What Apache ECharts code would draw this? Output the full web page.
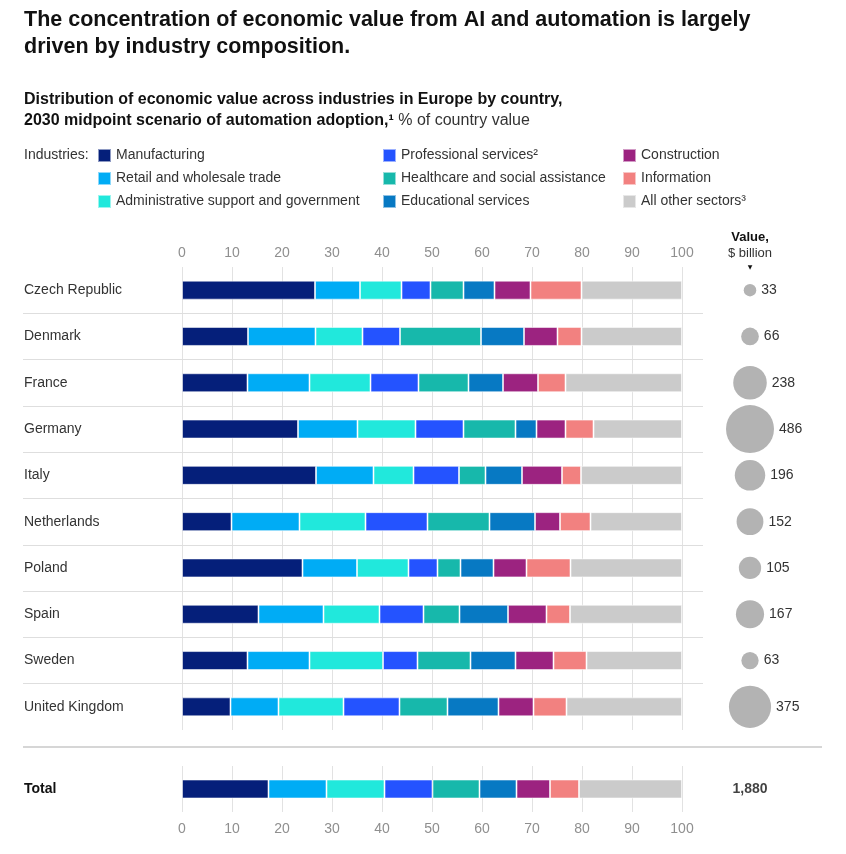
<!DOCTYPE html>
<html>
<head>
<meta charset="utf-8">
<script src="https://cdn.jsdelivr.net/npm/echarts@6/dist/echarts.min.js"></script>
<style>
html,body{margin:0;padding:0;background:#fff;}
#chart{width:846px;height:854px;}
</style>
</head>
<body>
<div id="chart"></div>
<script>
// ---- data ----
var countries = ['Czech Republic','Denmark','France','Germany','Italy','Netherlands','Poland','Spain','Sweden','United Kingdom'];
var industries = ['Manufacturing','Retail and wholesale trade','Administrative support and government','Professional services\u00b2','Healthcare and social assistance','Educational services','Construction','Information','All other sectors\u00b3'];
var industryColors = ['#051f7a','#00acf5','#21e8dc','#2453ff','#17b8ab','#0779c3','#9c2380','#f28180','#cbcbcb'];

var manufacturing = [26.6, 13.2, 13.1, 23.2, 26.8, 9.9, 24.1, 15.3, 13.1, 9.7];
var retail        = [9.0, 13.5, 12.4, 11.9, 11.5, 13.6, 10.9, 13.0, 12.4, 9.6];
var admin         = [8.3, 9.4, 12.2, 11.6, 8.0, 13.2, 10.3, 11.2, 14.7, 13.0];
var professional  = [5.8, 7.5, 9.6, 9.6, 9.1, 12.4, 5.8, 8.8, 6.9, 11.2];
var healthcare    = [6.6, 16.2, 10.0, 10.4, 5.3, 12.4, 4.6, 7.2, 10.6, 9.6];
var educational   = [6.2, 8.6, 6.9, 4.2, 7.3, 9.1, 6.6, 9.7, 9.0, 10.2];
var construction  = [7.2, 6.7, 7.0, 5.8, 8.0, 5.0, 6.6, 7.7, 7.6, 7.0];
var information   = [10.2, 4.8, 5.5, 5.6, 3.8, 6.1, 8.8, 4.7, 6.6, 6.6];
var otherSectors  = [20.1, 20.1, 23.3, 17.7, 20.2, 18.3, 22.3, 22.4, 19.1, 23.1];

var totalShares = [17.3, 11.6, 11.6, 9.6, 9.4, 7.4, 6.7, 5.8, 20.6];
var countryValues = [33, 66, 238, 486, 196, 152, 105, 167, 63, 375];
var totalValue = 1880;
var axisTicks = [0, 10, 20, 30, 40, 50, 60, 70, 80, 90, 100];

var industryData = [manufacturing, retail, admin, professional, healthcare, educational, construction, information, otherSectors];

// ---- layout ----
var FONT = 'Liberation Sans, Arial, sans-serif';
var maxVal = Math.max.apply(null, countryValues);
var maxDiam = 48;

var series = [];
industries.forEach(function (name, k) {
  series.push({
    name: name, type: 'bar', stack: 'c', xAxisIndex: 0, yAxisIndex: 0,
    barWidth: 19, data: industryData[k],
    itemStyle: {color: industryColors[k], borderColor: 'rgba(255,255,255,0.55)', borderWidth: 1},
    silent: true, animation: false
  });
  series.push({
    name: name, type: 'bar', stack: 't', xAxisIndex: 1, yAxisIndex: 1,
    barWidth: 19, data: [totalShares[k]],
    itemStyle: {color: industryColors[k], borderColor: 'rgba(255,255,255,0.55)', borderWidth: 1},
    silent: true, animation: false
  });
});

series.push({
  type: 'scatter', xAxisIndex: 2, yAxisIndex: 2, silent: true, animation: false,
  data: countryValues.map(function (v, i) { return [0.5, i, v]; }),
  symbolSize: function (d) { return maxDiam * Math.sqrt(d[2] / maxVal); },
  itemStyle: {color: '#b3b3b3', opacity: 1},
  label: {show: true, position: 'right', distance: 5, color: '#333', fontSize: 14, fontFamily: FONT,
    formatter: function (p) { return p.value[2]; }}
});

series.push({
  type: 'scatter', xAxisIndex: 3, yAxisIndex: 3, silent: true, animation: false,
  data: [[0.5, 0, totalValue]], symbolSize: 1,
  itemStyle: {color: 'rgba(0,0,0,0)'},
  label: {show: true, position: 'inside', color: '#111', fontSize: 14, fontWeight: 'bold', fontFamily: FONT,
    formatter: function (p) { return p.value[2].toLocaleString('en-US'); }}
});

series.push({
  type: 'scatter', xAxisIndex: 4, yAxisIndex: 4, silent: true, animation: false,
  data: [[0, 0]], symbolSize: 0,
  markLine: {
    silent: true, symbol: ['none', 'none'], animation: false,
    label: {show: false},
    lineStyle: {color: '#dedede', type: 'solid', width: 1},
    data: countries.slice(1).map(function (c, i) { return {yAxis: i + 1}; })
  }
});

var hiddenVal = {type: 'value', show: false, min: 0, max: 1};
var axisLabelStyle = {color: '#8f8f8f', fontSize: 14, fontFamily: FONT};

var option = {
  backgroundColor: '#fff',
  textStyle: {fontFamily: FONT},
  title: [
    {text: 'The concentration of economic value from AI and automation is largely\ndriven by industry composition.',
     left: 24, top: 7, padding: 0,
     textStyle: {fontSize: 21.5, fontWeight: 'bold', color: '#111', lineHeight: 27, fontFamily: FONT}},
    {text: '{b|Distribution of economic value across industries in Europe by country,}\n{b|2030 midpoint scenario of automation adoption,\u00b9}{r| % of country value}',
     left: 24, top: 89, padding: 0,
     textStyle: {fontWeight: 'normal', rich: {
       b: {fontSize: 16, fontWeight: 'bold', color: '#111', lineHeight: 21, fontFamily: FONT},
       r: {fontSize: 16, fontWeight: 'normal', color: '#333', lineHeight: 21, fontFamily: FONT}
     }}}
  ],
  legend: [0, 1, 2].map(function (c) {
    return {
      orient: 'vertical', left: [97, 382, 622][c], top: 148,
      data: industries.slice(c * 3, c * 3 + 3),
      icon: 'rect', itemWidth: 13, itemHeight: 13, itemGap: 8, padding: 0,
      selectedMode: false,
      textStyle: {fontSize: 14, color: '#333', fontFamily: FONT}
    };
  }),
  graphic: [
    {type: 'text', x: 24, y: 155, style: {text: 'Industries:', fontSize: 14, fill: '#333', fontFamily: FONT, verticalAlign: 'middle'}},
    {type: 'text', x: 750, y: 237, style: {text: 'Value,', fontSize: 13, fontWeight: 'bold', fill: '#111', align: 'center', verticalAlign: 'middle', fontFamily: FONT}},
    {type: 'text', x: 750, y: 253, style: {text: '$ billion', fontSize: 13, fill: '#333', align: 'center', verticalAlign: 'middle', fontFamily: FONT}},
    {type: 'text', x: 750, y: 267, style: {text: '\u25BC', fontSize: 6, fill: '#111', align: 'center', verticalAlign: 'middle', fontFamily: 'DejaVu Sans'}},
    {type: 'line', shape: {x1: 23, y1: 747, x2: 822, y2: 747}, style: {stroke: '#c8c8c8', lineWidth: 1.5}}
  ],
  grid: [
    {left: 182, right: 164, top: 267, height: 463},
    {left: 182, right: 164, top: 766, height: 46},
    {left: 700, width: 100, top: 267, height: 463},
    {left: 700, width: 100, top: 766, height: 46},
    {left: 23, right: 143, top: 267, height: 463}
  ],
  xAxis: [
    {gridIndex: 0, type: 'value', position: 'top', min: axisTicks[0], max: axisTicks[axisTicks.length - 1], interval: 10,
     axisLine: {show: false}, axisTick: {show: false},
     axisLabel: Object.assign({margin: 7}, axisLabelStyle),
     splitLine: {show: true, lineStyle: {color: '#e2e2e2', width: 1}}},
    {gridIndex: 1, type: 'value', position: 'bottom', min: axisTicks[0], max: axisTicks[axisTicks.length - 1], interval: 10,
     axisLine: {show: false}, axisTick: {show: false},
     axisLabel: Object.assign({margin: 10}, axisLabelStyle),
     splitLine: {show: true, lineStyle: {color: '#e2e2e2', width: 1}}},
    Object.assign({gridIndex: 2}, hiddenVal),
    Object.assign({gridIndex: 3}, hiddenVal),
    Object.assign({gridIndex: 4}, hiddenVal)
  ],
  yAxis: [
    {gridIndex: 0, type: 'category', data: countries, inverse: true,
     axisLine: {show: false}, axisTick: {show: false}, splitLine: {show: false},
     axisLabel: {align: 'left', margin: 158, color: '#333', fontSize: 14, fontWeight: 'normal', fontFamily: FONT}},
    {gridIndex: 1, type: 'category', data: ['Total'], inverse: true,
     axisLine: {show: false}, axisTick: {show: false},
     axisLabel: {align: 'left', margin: 158, color: '#111', fontSize: 14, fontWeight: 'bold', fontFamily: FONT}},
    {gridIndex: 2, type: 'category', data: countries, inverse: true, show: false},
    {gridIndex: 3, type: 'category', data: ['Total'], show: false},
    {gridIndex: 4, type: 'value', min: 0, max: countries.length, inverse: true, show: false}
  ],
  series: series
};

var chart = echarts.init(document.getElementById('chart'), null, {renderer: 'canvas'});
chart.setOption(option);
</script>
</body>
</html>
